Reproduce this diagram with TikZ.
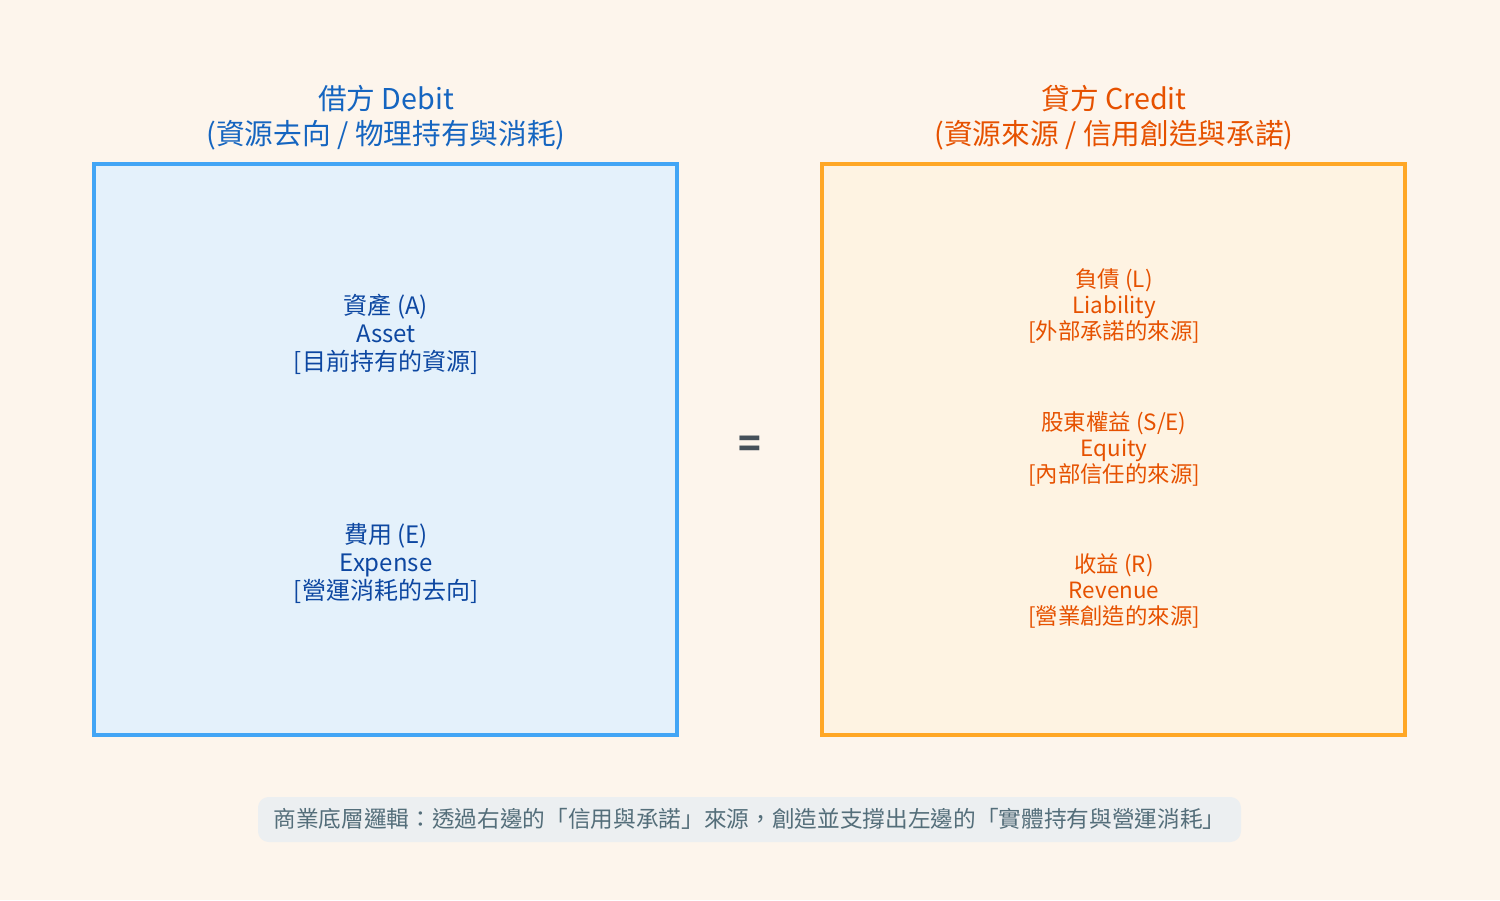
\documentclass[tikz,border=0pt]{standalone}
\usepackage{fontspec}
\setmainfont{Noto Sans CJK TC}
\definecolor{bg}{HTML}{FDF5EC}
\definecolor{lb}{HTML}{42A5F5}
\definecolor{lf}{HTML}{E4F1FB}
\definecolor{lt}{HTML}{1565C0}
\definecolor{ltx}{HTML}{0D47A1}
\definecolor{rb}{HTML}{FFA726}
\definecolor{rf}{HTML}{FEF3E2}
\definecolor{rt}{HTML}{E65100}
\definecolor{cf}{HTML}{ECEFF1}
\definecolor{ct}{HTML}{546E7A}
\begin{document}
\begin{tikzpicture}[x=0.75pt,y=-0.75pt,
  box/.style={line width=2.4pt},
  ttl/.style={align=center,font=\fontsize{21.5}{26}\selectfont},
  lbl/.style={align=center,font=\fontsize{18}{21}\selectfont},
  rlbl/.style={align=center,font=\fontsize{16.8}{19.5}\selectfont,text=rt}]
\fill[bg] (0,0) rectangle (1500,900);
\useasboundingbox (0,0) rectangle (1500,900);
\draw[box,draw=lb,fill=lf] (94,164) rectangle (677,735);
\draw[box,draw=rb,fill=rf] (822,164) rectangle (1405,735);
\node[ttl,text=lt] (lt) at (386,118) {借方 Debit\\(資源去向 / 物理持有與消耗)};
\node[ttl,text=rt] (rt) at (1114,118) {貸方 Credit\\(資源來源 / 信用創造與承諾)};
\node[lbl,text=ltx] (a) at (386,334) {資產 (A)\\Asset\\{[目前持有的資源]}};
\node[lbl,text=ltx] (e) at (386,563) {費用 (E)\\Expense\\{[營運消耗的去向]}};
\node[rlbl] (l) at (1114,306) {負債 (L)\\Liability\\{[外部承諾的來源]}};
\node[rlbl] (s) at (1114,449) {股東權益 (S/E)\\Equity\\{[內部信任的來源]}};
\node[rlbl] (r) at (1114,591) {收益 (R)\\Revenue\\{[營業創造的來源]}};
\node[text={rgb,255:red,69;green,80;blue,90},font=\fontsize{28}{30}\selectfont\bfseries] (eq) at (750,447) {=};
\fill[cf,rounded corners=8pt] (258,797) rectangle (1241,842);
\node[text=ct,font=\fontsize{17}{20}\selectfont] (c) at (749.5,819) {商業底層邏輯：透過右邊的「信用與承諾」來源，創造並支撐出左邊的「實體持有與營運消耗」};
\end{tikzpicture}
\end{document}
